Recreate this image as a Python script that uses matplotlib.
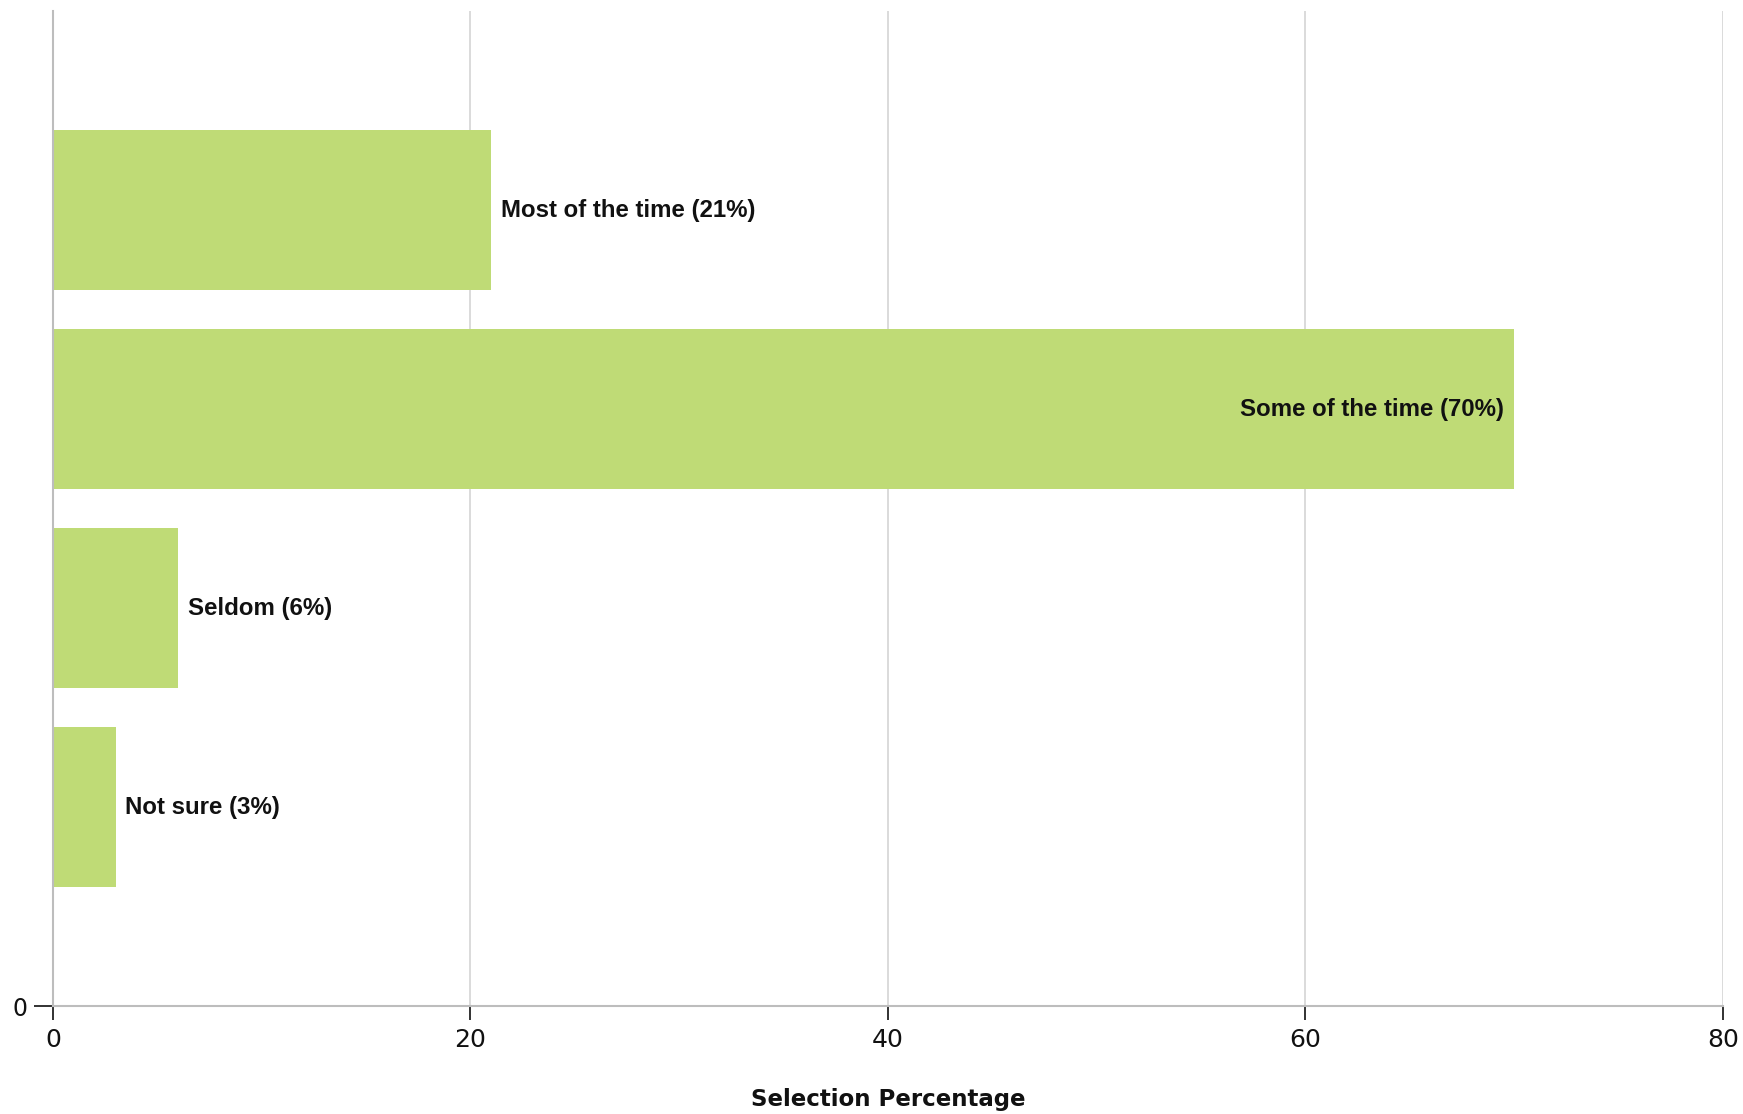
import matplotlib
matplotlib.use("Agg")
import matplotlib.pyplot as plt

# survey answers, top to bottom
answers = ["Most of the time", "Some of the time", "Seldom", "Not sure"]
percent = [21, 70, 6, 3]
x_ticks = [0, 20, 40, 60, 80]

bar_color = "#bfdb76"
grid_color = "#d4d4d4"

fig = plt.figure(figsize=(17.43, 11.14), dpi=100)
ax = fig.add_axes([0.0304, 0.0969, 0.9581, 0.8932])

n = len(answers)
ypos = [n - i for i in range(n)]
ax.barh(ypos, percent, height=0.8, color=bar_color, zorder=2)

for y, name, val in zip(ypos, answers, percent):
    label = f"{name} ({val}%)"
    if val > 50:
        ax.annotate(label, (val, y), xytext=(-7, 0), textcoords="offset points",
                    ha="right", va="center", fontsize=17.3, fontweight="bold",
                    family="Liberation Sans", color="#111111", zorder=3)
    else:
        ax.annotate(label, (val, y), xytext=(7, 0), textcoords="offset points",
                    ha="left", va="center", fontsize=17.3, fontweight="bold",
                    family="Liberation Sans", color="#111111", zorder=3)

ax.set_xlim(0, 80)
ax.set_ylim(0, n + 1)
ax.set_xticks(x_ticks)
ax.set_yticks([0])
ax.grid(axis="x", color=grid_color, linewidth=1.2, zorder=0)

for side in ["top", "right"]:
    ax.spines[side].set_visible(False)
for side in ["left", "bottom"]:
    ax.spines[side].set_color("#bdbdbd")
    ax.spines[side].set_linewidth(1.5)

ax.tick_params(axis="x", length=10, width=1.3, color="#222222", labelsize=18, pad=6,
               labelcolor="#111111")
ax.tick_params(axis="y", length=14, width=1.3, color="#222222", labelsize=17, pad=4,
               labelcolor="#111111")

ax.set_xlabel("Selection Percentage", fontsize=16.5, fontweight="bold", labelpad=26,
              color="#111111")

fig.savefig("out.png", dpi=100)
